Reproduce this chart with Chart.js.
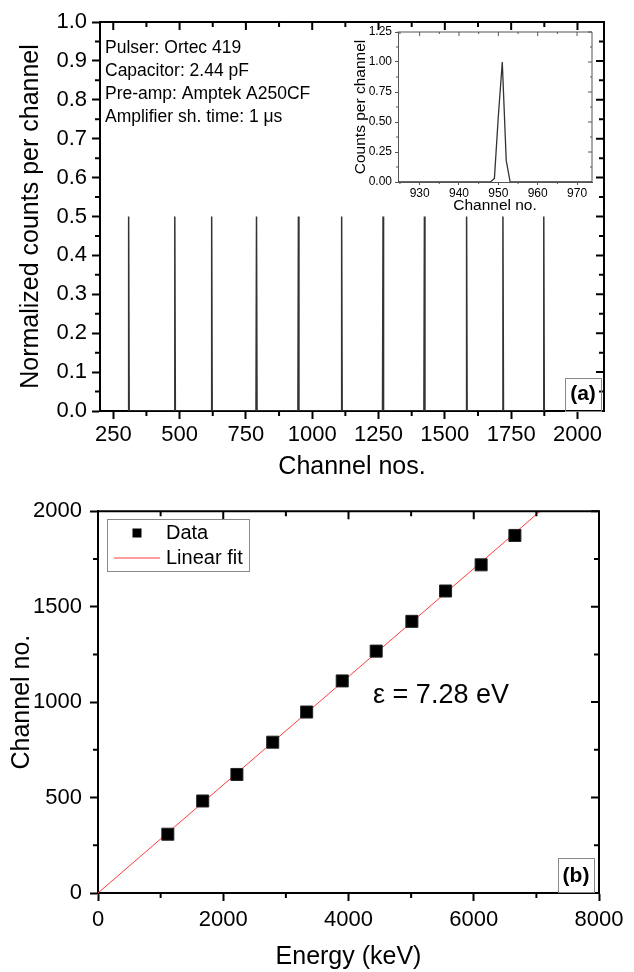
<!DOCTYPE html>
<html>
<head>
<meta charset="utf-8">
<script src="https://cdn.jsdelivr.net/npm/chart.js@4.4.1/dist/chart.umd.min.js"></script>
<style>
html, body { margin: 0; padding: 0; background: #fff; }
#wrap { position: relative; width: 634px; height: 972px; overflow: hidden; }
canvas { position: absolute; }
</style>
</head>
<body>
<div id="wrap">
  <canvas id="chartA" width="634" height="490" style="left:0;top:0;width:634px;height:490px"></canvas>
  <canvas id="chartB" width="634" height="482" style="left:0;top:490px;width:634px;height:482px"></canvas>
  <canvas id="inset" width="275" height="200" style="left:330px;top:20px;width:275px;height:200px"></canvas>
</div>
<script>
// peak positions (channel) and heights (a) / (b)
var peakChannels = [308, 482, 621, 790, 948, 1111, 1267, 1423, 1582, 1719, 1873];
var peakCounts = [0.5, 0.5, 0.5, 0.5, 0.5, 0.5, 0.5, 0.5, 0.5, 0.5, 0.5];

// inset: one peak zoomed in
var insetChannels = [924.5, 947, 948, 949, 950, 951, 952, 953, 954, 973.8];
var insetCounts = [0, 0, 0, 0.03, 0.55, 1.0, 0.18, 0, 0, 0];

// panel (b): pulser energy vs channel
var energies = [1115, 1672, 2218, 2790, 3332, 3900, 4442, 5012, 5550, 6118, 6657];
var fitEnergy = [0, 7060];
var fitChannel = [0, 2000];

var notesA = ['Pulser: Ortec 419', 'Capacitor: 2.44 pF', 'Pre-amp: Amptek A250CF', 'Amplifier sh. time: 1 \u03bcs'];

Chart.defaults.font.family = "'Liberation Sans', Arial, sans-serif";
Chart.defaults.color = '#000';

function minorValues(scale, step, majors) {
  var out = [];
  var n0 = Math.ceil(scale.min / step - 1e-9), n1 = Math.floor(scale.max / step + 1e-9);
  for (var n = n0; n <= n1; n++) {
    var v = n * step;
    if (!majors.some(function (m) { return Math.abs(m - v) < step / 100; })) out.push(v);
  }
  return out;
}

// top/right frame, inward ticks there, and minor ticks everywhere
var frameTicks = {
  id: 'frameTicks',
  afterDraw: function (chart, args, o) {
    var ctx = chart.ctx, a = chart.chartArea, sx = chart.scales.x, sy = chart.scales.y;
    var xMaj = sx.ticks.map(function (t) { return t.value; });
    var yMaj = sy.ticks.map(function (t) { return t.value; });
    var xMin = minorValues(sx, o.xMinor, xMaj), yMin = minorValues(sy, o.yMinor, yMaj);
    ctx.save();
    ctx.strokeStyle = o.color;
    ctx.lineWidth = o.width;
    ctx.beginPath();
    ctx.moveTo(a.left - o.width / 2, a.top);
    ctx.lineTo(a.right, a.top);
    ctx.lineTo(a.right, a.bottom + o.width / 2);
    ctx.stroke();
    ctx.lineWidth = o.tickWidth;
    ctx.beginPath();
    xMaj.forEach(function (v) { var p = sx.getPixelForValue(v); ctx.moveTo(p, a.top); ctx.lineTo(p, a.top + o.majorLen); });
    xMin.forEach(function (v) {
      var p = sx.getPixelForValue(v);
      ctx.moveTo(p, a.top); ctx.lineTo(p, a.top + o.minorLen);
      ctx.moveTo(p, a.bottom); ctx.lineTo(p, a.bottom + o.minorLen);
    });
    yMaj.forEach(function (v) { var p = sy.getPixelForValue(v); ctx.moveTo(a.right, p); ctx.lineTo(a.right - o.majorLen, p); });
    yMin.forEach(function (v) {
      var p = sy.getPixelForValue(v);
      ctx.moveTo(a.right, p); ctx.lineTo(a.right - o.minorLen, p);
      ctx.moveTo(a.left, p); ctx.lineTo(a.left - o.minorLen, p);
    });
    ctx.stroke();
    ctx.restore();
  }
};

var notes = {
  id: 'notes',
  afterDraw: function (chart, args, o) {
    var ctx = chart.ctx;
    ctx.save();
    (o.boxes || []).forEach(function (b) {
      ctx.strokeStyle = b.color; ctx.lineWidth = 1;
      ctx.strokeRect(b.x + 0.5, b.y + 0.5, b.w, b.h);
    });
    (o.texts || []).forEach(function (t) {
      ctx.font = t.font; ctx.fillStyle = '#000';
      ctx.textAlign = t.align || 'left'; ctx.textBaseline = 'middle';
      ctx.fillText(t.text, t.x, t.y);
    });
    ctx.restore();
  }
};

var boxLegend = {
  id: 'boxLegend',
  afterDraw: function (chart, args, o) {
    if (!o.x) return;
    var ctx = chart.ctx;
    ctx.save();
    ctx.strokeStyle = '#888'; ctx.lineWidth = 1;
    ctx.strokeRect(o.x + 0.5, o.y + 0.5, o.w, o.h);
    ctx.font = o.font; ctx.textBaseline = 'middle'; ctx.textAlign = 'left';
    chart.data.datasets.forEach(function (ds, i) {
      var cy = o.y + o.first + i * o.gap;
      if (ds.showLine === false) {
        ctx.fillStyle = ds.backgroundColor;
        ctx.fillRect(o.symX - o.sq / 2, cy - o.sq / 2, o.sq, o.sq);
      } else {
        ctx.strokeStyle = ds.borderColor; ctx.lineWidth = ds.borderWidth;
        ctx.beginPath(); ctx.moveTo(o.lineX0, cy); ctx.lineTo(o.lineX1, cy); ctx.stroke();
      }
      ctx.fillStyle = '#000';
      ctx.fillText(ds.label, o.textX, cy);
    });
    ctx.restore();
  }
};

// ---- panel (a) spectrum ----
var spectrum = [];
peakChannels.forEach(function (c, i) {
  spectrum.push({x: c - 2, y: 0}, {x: c, y: peakCounts[i]}, {x: c + 2, y: 0});
});

new Chart(document.getElementById('chartA'), {
  type: 'line',
  data: {
    datasets: [{
      data: spectrum,
      borderColor: '#333',
      borderWidth: 1.5,
      pointRadius: 0,
      tension: 0
    }]
  },
  options: {
    responsive: false,
    animation: false,
    devicePixelRatio: 1,
    layout: {padding: {top: 22, right: 30, left: 0, bottom: 0}},
    plugins: {
      legend: {display: false},
      tooltip: {enabled: false},
      frameTicks: {xMinor: 125, yMinor: 0.05, majorLen: 8, minorLen: 5, width: 2, tickWidth: 2, color: '#000'},
      notes: {
        texts: notesA.map(function (t, i) {
          return {text: t, x: 105, y: 48 + i * 23, font: '17.5px "Liberation Sans", Arial'};
        }).concat([{text: '(a)', x: 583, y: 394, align: 'center', font: 'bold 21px "Liberation Sans", Arial'}]),
        boxes: [{x: 565, y: 378, w: 36, h: 33, color: '#888'}]
      }
    },
    scales: {
      x: {
        type: 'linear', min: 200, max: 2100,
        ticks: {stepSize: 250, includeBounds: false, font: {size: 22}, padding: 3, maxRotation: 0, autoSkip: false,
          callback: function (v) { return String(v); }},
        grid: {drawOnChartArea: false, tickLength: 8, tickWidth: 2, tickColor: '#000'},
        border: {color: '#000', width: 2},
        title: {display: true, text: 'Channel nos.', font: {size: 25}, padding: {top: 0, bottom: 8}},
        afterFit: function (s) { s.height = 79; }
      },
      y: {
        type: 'linear', min: 0, max: 1,
        ticks: {stepSize: 0.1, font: {size: 22}, padding: 5, autoSkip: false,
          callback: function (v) { return v.toFixed(1); }},
        grid: {drawOnChartArea: false, tickLength: 8, tickWidth: 2, tickColor: '#000'},
        border: {color: '#000', width: 2},
        title: {display: true, text: 'Normalized counts per channel', font: {size: 25}, padding: {top: 16, bottom: 0}},
        afterFit: function (s) { s.width = 100; }
      }
    }
  },
  plugins: [frameTicks, notes]
});

// ---- inset ----
new Chart(document.getElementById('inset'), {
  type: 'line',
  data: {
    datasets: [{
      data: insetChannels.map(function (c, i) { return {x: c, y: insetCounts[i]}; }),
      borderColor: '#333',
      borderWidth: 1.3,
      pointRadius: 0,
      tension: 0
    }]
  },
  options: {
    responsive: false,
    animation: false,
    devicePixelRatio: 1,
    layout: {padding: {top: 12, right: 13, left: 0, bottom: 0}},
    plugins: {
      legend: {display: false},
      tooltip: {enabled: false},
      frameTicks: {xMinor: 5, yMinor: 0.125, majorLen: 4, minorLen: 2, width: 1, tickWidth: 1, color: '#555'}
    },
    scales: {
      x: {
        type: 'linear', min: 924.5, max: 973.8,
        ticks: {stepSize: 10, includeBounds: false, font: {size: 12}, padding: 1, maxRotation: 0, autoSkip: false},
        grid: {drawOnChartArea: false, tickLength: 3, tickWidth: 1, tickColor: '#555'},
        border: {color: '#555', width: 1},
        title: {display: true, text: 'Channel no.', font: {size: 15.5}, padding: {top: 0, bottom: 5}},
        afterFit: function (s) { s.height = 38; }
      },
      y: {
        type: 'linear', min: 0, max: 1.25,
        ticks: {stepSize: 0.25, font: {size: 12}, padding: 3, autoSkip: false,
          callback: function (v) { return v.toFixed(2); }},
        grid: {drawOnChartArea: false, tickLength: 3, tickWidth: 1, tickColor: '#555'},
        border: {color: '#555', width: 1},
        title: {display: true, text: 'Counts per channel', font: {size: 15.5}, padding: {top: 21, bottom: 0}},
        afterFit: function (s) { s.width = 68; }
      }
    }
  },
  plugins: [frameTicks]
});

// ---- panel (b) calibration ----
new Chart(document.getElementById('chartB'), {
  type: 'line',
  data: {
    datasets: [{
      label: 'Data',
      data: energies.map(function (e, i) { return {x: e, y: peakChannels[i]}; }),
      showLine: false,
      pointStyle: 'rect',
      pointRadius: 8.5,
      backgroundColor: '#000',
      borderColor: '#222',
      borderWidth: 1
    }, {
      label: 'Linear fit',
      data: fitEnergy.map(function (e, i) { return {x: e, y: fitChannel[i]}; }),
      borderColor: '#ff3c3c',
      borderWidth: 1,
      pointRadius: 0,
      tension: 0
    }]
  },
  options: {
    responsive: false,
    animation: false,
    devicePixelRatio: 1,
    layout: {padding: {top: 14, right: 35, left: 0, bottom: 0}},
    plugins: {
      legend: {display: false},
      tooltip: {enabled: false},
      frameTicks: {xMinor: 1000, yMinor: 250, majorLen: 8, minorLen: 5, width: 2, tickWidth: 2, color: '#000'},
      boxLegend: {x: 107, y: 29, w: 142, h: 52, first: 14, gap: 25, symX: 137, sq: 9,
        lineX0: 114, lineX1: 160, textX: 166, font: '20px "Liberation Sans", Arial'},
      notes: {
        texts: [
          {text: '\u03b5 = 7.28 eV', x: 441, y: 206, align: 'center', font: '27px "Liberation Sans", Arial'},
          {text: '(b)', x: 576, y: 386, align: 'center', font: 'bold 21px "Liberation Sans", Arial'}
        ],
        boxes: [{x: 558, y: 368, w: 36, h: 34, color: '#888'}]
      }
    },
    scales: {
      x: {
        type: 'linear', min: 0, max: 8000,
        ticks: {stepSize: 2000, font: {size: 22}, padding: 6, maxRotation: 0, autoSkip: false,
          callback: function (v) { return String(v); }},
        grid: {drawOnChartArea: false, tickLength: 8, tickWidth: 2, tickColor: '#000'},
        border: {color: '#000', width: 2},
        title: {display: true, text: 'Energy (keV)', font: {size: 25}, padding: {top: 0, bottom: 0}},
        afterFit: function (s) { s.height = 79; }
      },
      y: {
        type: 'linear', min: 0, max: 2000,
        ticks: {stepSize: 500, font: {size: 22}, padding: 8, autoSkip: false,
          callback: function (v) { return String(v); }},
        grid: {drawOnChartArea: false, tickLength: 8, tickWidth: 2, tickColor: '#000'},
        border: {color: '#000', width: 2},
        title: {display: true, text: 'Channel no.', font: {size: 25}, padding: {top: 7, bottom: 0}},
        afterFit: function (s) { s.width = 98; }
      }
    }
  },
  plugins: [frameTicks, notes, boxLegend]
});
</script>
</body>
</html>
